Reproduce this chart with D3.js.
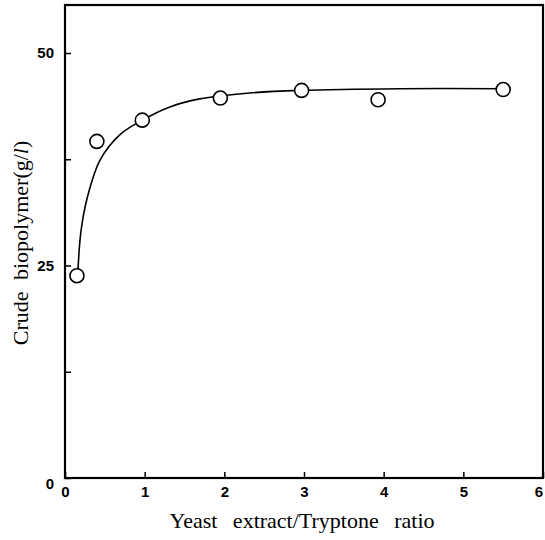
<!DOCTYPE html>
<html>
<head>
<meta charset="utf-8">
<script src="https://cdn.jsdelivr.net/npm/d3@7"></script>
<style>
  body { margin: 0; background: #fff; }
  svg { display: block; }
</style>
</head>
<body>
<div id="chart"></div>
<script>
// measured points (ratio, g/l)
const ratios = [0.15, 0.4, 0.97, 1.95, 2.97, 3.93, 5.5];
const biopolymer = [23.8, 39.6, 42.1, 44.7, 45.6, 44.5, 45.7];

// fitted curve
const curveX = [0.16, 0.2, 0.28, 0.44, 0.69, 0.97, 1.3, 1.69, 2.32, 2.95, 4.2, 5.5];
const curveY = [23.9, 29.0, 33.0, 37.4, 40.4, 42.1, 43.6, 44.6, 45.3, 45.6, 45.8, 45.8];

const xTicks = [0, 1, 2, 3, 4, 5, 6];
const yTicks = [0, 12.5, 25, 37.5, 50];
const yLabels = [0, 25, 50];

const W = 545, H = 540;
const svg = d3.select("#chart").append("svg")
  .attr("width", W).attr("height", H);

const x = d3.scaleLinear().domain([0, 6]).range([65, 543]);
const y = d3.scaleLinear().domain([0, 50]).range([478, 53]);
const yTop = y.invert(5);

// frame
svg.append("rect")
  .attr("x", x(0)).attr("y", y(yTop))
  .attr("width", x(6) - x(0)).attr("height", y(0) - y(yTop))
  .attr("fill", "none").attr("stroke", "#000").attr("stroke-width", 2.2);

// x axis
const gx = svg.append("g")
  .attr("transform", `translate(0,${y(0)})`)
  .call(d3.axisBottom(x).tickValues(xTicks).tickSize(-6).tickPadding(8)
    .tickFormat(d3.format("d")));
gx.select(".domain").remove();
gx.selectAll("line").attr("stroke-width", 1.5);
gx.selectAll("text")
  .attr("font-family", "Liberation Sans, Arial, sans-serif")
  .attr("font-weight", "bold").attr("font-size", 15).attr("fill", "#000");
gx.selectAll(".tick").filter(d => d === 6).select("text").attr("dx", "-0.3em");

// y axis
const gy = svg.append("g")
  .attr("transform", `translate(${x(0)},0)`)
  .call(d3.axisLeft(y).tickValues(yTicks).tickSize(-6).tickPadding(11)
    .tickFormat(d => yLabels.includes(d) ? d : ""));
gy.select(".domain").remove();
gy.selectAll("line").attr("stroke-width", 1.5);
gy.selectAll("text")
  .attr("font-family", "Liberation Sans, Arial, sans-serif")
  .attr("font-weight", "bold").attr("font-size", 15).attr("fill", "#000");
gy.selectAll(".tick").filter(d => d === 0).select("text").attr("dy", "0.7em");

// curve
const line = d3.line()
  .x(d => x(d[0])).y(d => y(d[1]))
  .curve(d3.curveCatmullRom.alpha(0.5));
svg.append("path")
  .attr("d", line(d3.zip(curveX, curveY)))
  .attr("fill", "none").attr("stroke", "#000").attr("stroke-width", 1.6);

// points
svg.append("g").selectAll("circle")
  .data(d3.zip(ratios, biopolymer))
  .join("circle")
  .attr("cx", d => x(d[0])).attr("cy", d => y(d[1]))
  .attr("r", 7)
  .attr("fill", "#fff").attr("stroke", "#000").attr("stroke-width", 1.6);

// axis titles
svg.append("text")
  .attr("x", 302).attr("y", 528)
  .attr("text-anchor", "middle")
  .attr("font-family", "Liberation Serif, Times New Roman, serif")
  .attr("font-size", 22)
  .attr("word-spacing", 10)
  .text("Yeast extract/Tryptone ratio");

const yt = svg.append("text")
  .attr("transform", "translate(28,243) rotate(-90)")
  .attr("text-anchor", "middle")
  .attr("font-family", "Liberation Serif, Times New Roman, serif")
  .attr("font-size", 22)
  .attr("word-spacing", 6);
yt.append("tspan").text("Crude biopolymer(g/");
yt.append("tspan").attr("font-style", "italic").text("l");
yt.append("tspan").text(")");
</script>
</body>
</html>
